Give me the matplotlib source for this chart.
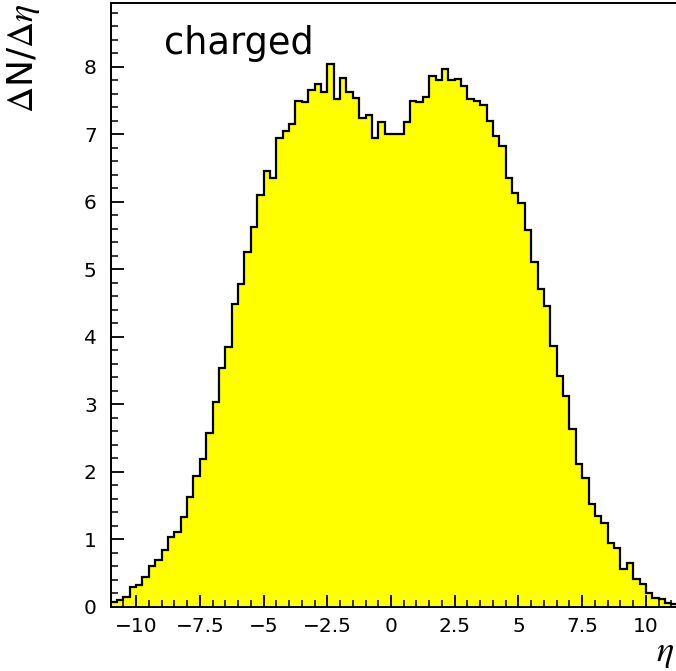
import numpy as np
import matplotlib
matplotlib.use("Agg")
import matplotlib.pyplot as plt
from matplotlib.ticker import MultipleLocator

# Histogram data: dN/deta of charged particles, bins of width 0.25 starting at eta = -11
bin_low = -11.0
bin_width = 0.25
dn_deta = [0.07, 0.10, 0.15, 0.29, 0.33, 0.45, 0.60, 0.69, 0.84, 1.04,
           1.11, 1.34, 1.63, 1.94, 2.19, 2.57, 3.04, 3.54, 3.85, 4.49,
           4.78, 5.26, 5.62, 6.10, 6.46, 6.36, 6.95, 7.05, 7.15, 7.50,
           7.48, 7.66, 7.74, 7.62, 8.04, 7.53, 7.84, 7.62, 7.54, 7.24,
           7.28, 6.95, 7.18, 7.01, 7.00, 7.01, 7.18, 7.49, 7.48, 7.55,
           7.87, 7.80, 7.96, 7.81, 7.82, 7.72, 7.53, 7.49, 7.44, 7.20,
           6.98, 6.83, 6.35, 6.13, 5.99, 5.59, 5.11, 4.71, 4.46, 3.87,
           3.42, 3.13, 2.63, 2.12, 1.91, 1.53, 1.35, 1.25, 0.95, 0.88,
           0.57, 0.65, 0.42, 0.34, 0.20, 0.14, 0.12, 0.06, 0.05]
x_ticks = [-10, -7.5, -5, -2.5, 0, 2.5, 5, 7.5, 10]
x_tick_labels = ["\u221210", "\u22127.5", "\u22125", "\u22122.5", "0", "2.5", "5", "7.5", "10"]
y_ticks = [0, 1, 2, 3, 4, 5, 6, 7, 8]

plt.rcParams['font.family'] = ['DejaVu Sans']
plt.rcParams['mathtext.fontset'] = 'stix'

W, H = 676, 671
fig = plt.figure(figsize=(W / 100, H / 100), dpi=100)
left, right, bottom, top = 110.6, 676, 607, 3.3
ax = fig.add_axes([left / W, 1 - bottom / H, (right - left) / W, (bottom - top) / H])

edges = bin_low + bin_width * np.arange(len(dn_deta) + 1)
ax.stairs(dn_deta, edges, fill=True, color='#ffff00', zorder=1)
ax.stairs(dn_deta, edges, color='black', linewidth=1.6, zorder=2, baseline=None)

ax.set_xlim(-11.0, 11.18)
ax.set_ylim(0, 8.94)

ax.set_xticks(x_ticks)
ax.set_xticklabels(x_tick_labels)
ax.set_yticks(y_ticks)
ax.xaxis.set_minor_locator(MultipleLocator(0.5))
ax.yaxis.set_minor_locator(MultipleLocator(0.2))
ax.tick_params(axis='both', which='major', direction='in', length=9, width=1.3,
               labelsize=14.5, colors='black')
ax.tick_params(axis='both', which='minor', direction='in', length=5, width=1.1)
ax.tick_params(axis='x', which='major', pad=7)
ax.tick_params(axis='y', which='major', pad=10)
ax.tick_params(top=False, right=False, which='both')

for s in ['left', 'bottom', 'top']:
    ax.spines[s].set_linewidth(1.4)
ax.spines['right'].set_visible(False)

fig.text(164 / W, 1 - 44 / H, "charged", fontsize=26.5,
         va='center', ha='left', color='black')
fig.text(24 / W, 1 - 4 / H, r"$\Delta$N/$\Delta\eta$", rotation=90, fontsize=26,
         ha='center', va='top', color='black')
fig.text(665 / W, 1 - 653 / H, r"$\eta$", fontsize=26, ha='center', va='center', color='black')

fig.savefig("out.png", dpi=100)
